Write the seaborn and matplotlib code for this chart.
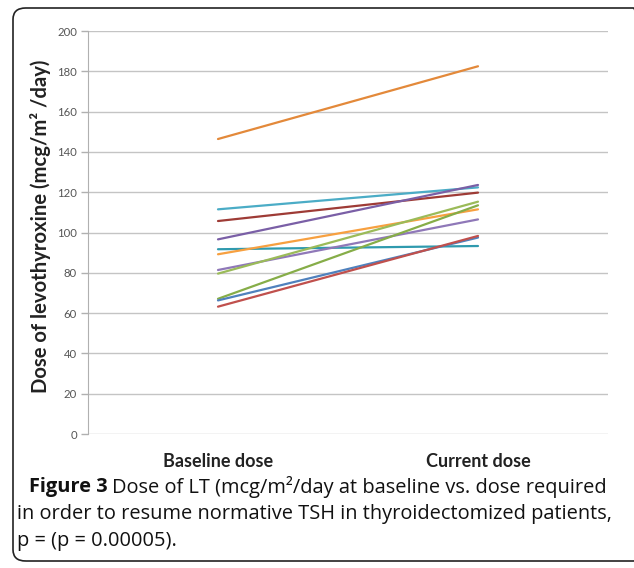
import matplotlib
matplotlib.use('Agg')
import matplotlib.pyplot as plt
import seaborn as sns
import pandas as pd
from matplotlib.patches import FancyBboxPatch

# values
timepoints = ['Baseline dose', 'Current dose']
baseline = [146.4, 111.5, 105.7, 96.6, 91.7, 89.2, 81.4, 79.6, 67.1, 66.3, 63.2]
current = [182.5, 122.4, 119.8, 123.6, 93.3, 111.5, 106.5, 115.3, 113.5, 97.5, 98.3]
patient_colors = ['#E3893A', '#4BACC6', '#9E3B36', '#7A5FA6', '#2F9AAE', '#F7A040',
                  '#8F78B8', '#9BBB59', '#86AD48', '#4F81BD', '#C0504D']

rows = []
for i in range(len(baseline)):
    rows.append({'patient': i, 'time': timepoints[0], 'dose': baseline[i]})
    rows.append({'patient': i, 'time': timepoints[1], 'dose': current[i]})
df = pd.DataFrame(rows)

sns.set_style('white')
plt.rcParams['font.family'] = ['Lato', 'DejaVu Sans']

fig = plt.figure(figsize=(6.34, 5.68), dpi=100)
ax = fig.add_axes([0.1388, 0.2359, 0.959 - 0.1388, 0.9454 - 0.2359])

sns.lineplot(data=df, x='time', y='dose', hue='patient', palette=patient_colors,
             estimator=None, sort=False, linewidth=1.6, legend=False, ax=ax)

ax.set_xlim(-0.5, 1.5)
ax.set_ylim(0, 200)
ax.set_yticks(range(0, 201, 20))
ax.yaxis.grid(True, color='#c4c4c4', linewidth=1.0)
ax.set_axisbelow(True)
for s in ['top', 'right', 'bottom']:
    ax.spines[s].set_visible(False)
ax.spines['left'].set_color('#b0b0b0')
ax.tick_params(axis='y', which='both', left=True, length=5, width=1, color='#b0b0b0',
               labelsize=8.2, labelcolor='#555555', pad=3)
ax.tick_params(axis='x', length=0, labelsize=13, pad=14)
for lbl in ax.get_xticklabels():
    lbl.set_fontweight('bold')
    lbl.set_color('#222222')
ax.set_xlabel('')
ax.set_ylabel('Dose of levothyroxine (mcg/m² /day)', fontsize=14.6, fontweight='bold',
              color='#222222')
ax.yaxis.set_label_coords(-0.071, 0.515)

# rounded frame around figure + caption
frame = FancyBboxPatch((13 / 634, 7 / 568), 633 / 634, 1 - 15 / 568,
                       boxstyle='round,pad=0,rounding_size=0.02',
                       transform=fig.transFigure, fill=False, edgecolor='#222222',
                       linewidth=1.2, clip_on=False)
fig.patches.append(frame)

cap_size = 14.4
cap_font = ['Open Sans', 'DejaVu Sans']
fig.canvas.draw()
r = fig.canvas.get_renderer()
t1 = fig.text(29 / 634, 1 - 487 / 568, 'Figure 3', fontsize=cap_size, fontweight='bold',
              family=cap_font, va='center', ha='left', color='#111111')
bb = t1.get_window_extent(r)
fig.text(bb.x1 / fig.bbox.width + 0.007, 1 - 487 / 568,
         'Dose of LT (mcg/m²/day at baseline vs. dose required',
         fontsize=cap_size, family=cap_font, va='center', ha='left', color='#111111')
fig.text(17 / 634, 1 - 514 / 568,
         'in order to resume normative TSH in thyroidectomized patients,',
         fontsize=cap_size, family=cap_font, va='center', ha='left', color='#111111')
fig.text(17 / 634, 1 - 541 / 568, 'p = (p = 0.00005).',
         fontsize=cap_size, family=cap_font, va='center', ha='left', color='#111111')

fig.savefig('out.png', dpi=100)
